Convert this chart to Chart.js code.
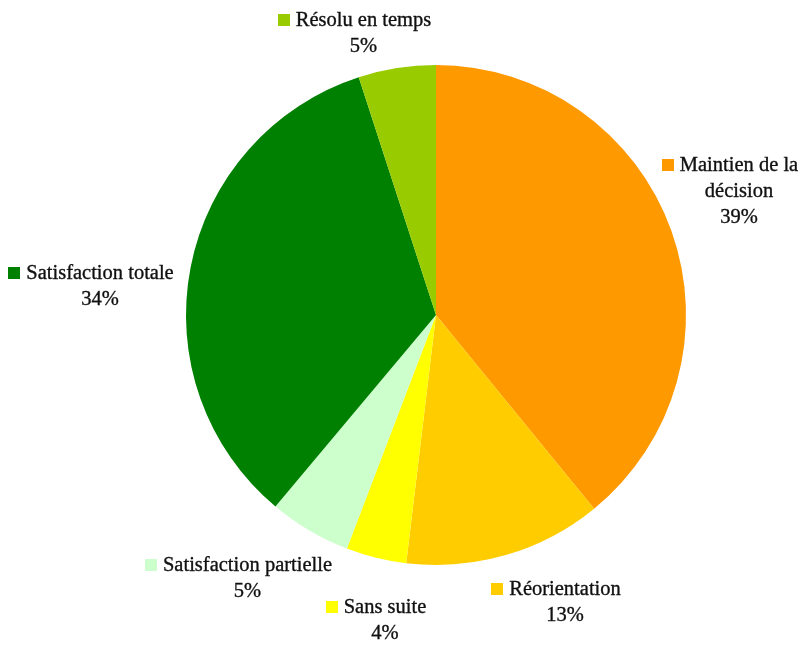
<!DOCTYPE html>
<html>
<head>
<meta charset="utf-8">
<script src="https://cdn.jsdelivr.net/npm/chart.js@4/dist/chart.umd.min.js"></script>
<style>
html,body{margin:0;padding:0;background:#fff;}
#wrap{width:805px;height:645px;position:relative;}
</style>
</head>
<body>
<div id="wrap"><canvas id="c" width="805" height="645"></canvas></div>
<script>
// ---- data ----
const categories = [['Maintien de la', 'décision'], 'Réorientation', 'Sans suite', 'Satisfaction partielle', 'Satisfaction totale', 'Résolu en temps'];
const values = [39.1, 12.8, 3.9, 5.3, 33.9, 5.0];
const colors = ['#FF9900', '#FFCC00', '#FFFF00', '#CCFFCC', '#008000', '#99CC00'];

// label block anchors (text centre x, first line centre y) as offsets from the pie centre
const labelOffsets = [[303, -150], [129, 274], [-51, 292], [-188.5, 250], [-336, -42], [-72.5, -295]];

const FONT = "20.5px 'Liberation Serif', serif";
const LINE_H = 26;

const labelPlugin = {
  id: 'pieLabels',
  afterDraw(chart) {
    const ctx = chart.ctx;
    const meta = chart.getDatasetMeta(0);
    const ds = chart.data.datasets[0].data;
    const total = ds.reduce((a, b) => a + b, 0);
    ctx.save();
    ctx.font = FONT;
    ctx.textAlign = 'center';
    ctx.textBaseline = 'middle';
    ctx.lineWidth = 0.35;
    ctx.strokeStyle = '#111';
    meta.data.forEach((arc, i) => {
      const cx = arc.x + labelOffsets[i][0];
      const cy = arc.y + labelOffsets[i][1];
      const lbl = chart.data.labels[i];
      const lines = Array.isArray(lbl) ? lbl.slice() : [lbl];
      lines.push(Math.round(ds[i] / total * 100) + '%');
      const w0 = ctx.measureText(lines[0]).width;
      ctx.fillStyle = colors[i];
      ctx.fillRect(Math.round(cx - w0 / 2 - 18), Math.round(cy - 6), 12, 12);
      ctx.fillStyle = '#111';
      lines.forEach((t, k) => {
        ctx.fillText(t, cx, cy + k * LINE_H + 1);
        ctx.strokeText(t, cx, cy + k * LINE_H + 1);
      });
    });
    ctx.restore();
  }
};

new Chart(document.getElementById('c'), {
  type: 'pie',
  data: {
    labels: categories,
    datasets: [{
      data: values,
      backgroundColor: colors,
      borderWidth: 0,
      hoverOffset: 0
    }]
  },
  options: {
    responsive: false,
    animation: false,
    layout: { padding: { left: 186, right: 119, top: 65, bottom: 80 } },
    plugins: {
      legend: { display: false },
      tooltip: { enabled: false }
    }
  },
  plugins: [labelPlugin]
});
</script>
</body>
</html>
